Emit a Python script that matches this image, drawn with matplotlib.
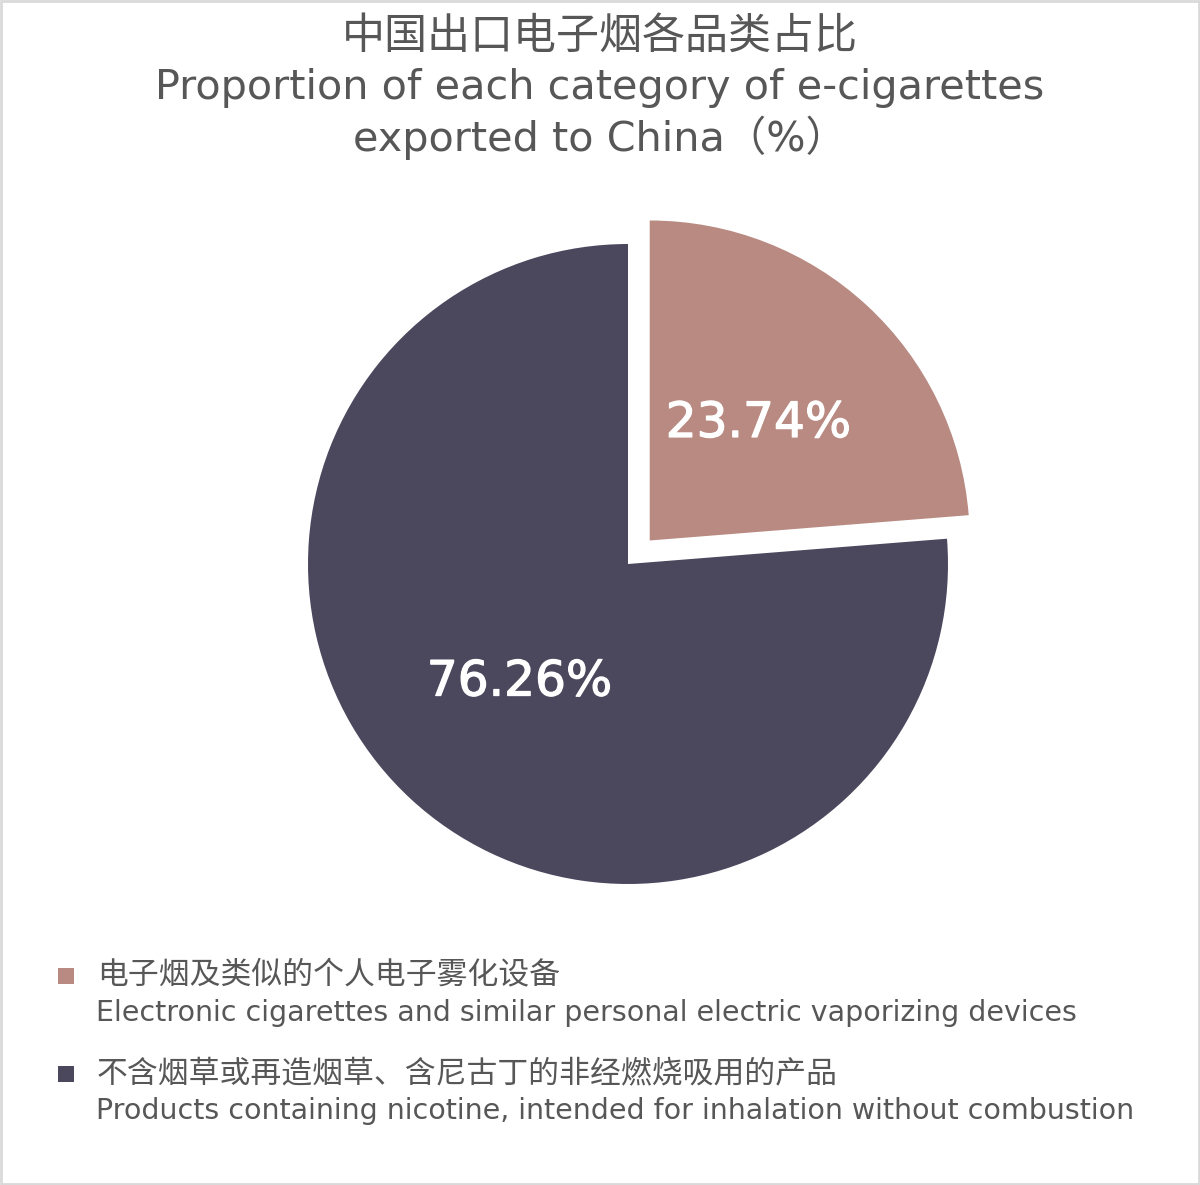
import matplotlib
matplotlib.use("Agg")
import matplotlib.pyplot as plt
import matplotlib.patheffects as pe
from matplotlib.patches import Rectangle

# data
labels_cn = ["电子烟及类似的个人电子雾化设备", "不含烟草或再造烟草、含尼古丁的非经燃烧吸用的产品"]
labels_en = ["Electronic cigarettes and similar personal electric vaporizing devices",
             "Products containing nicotine, intended for inhalation without combustion"]
shares = [23.74, 76.26]
colors = ["#B98A81", "#4B485D"]
explode = [0.1, 0]

title_cn = "中国出口电子烟各品类占比"
title_en = ["Proportion of each category of e-cigarettes", "exported to China（%）"]

fonts = ["DejaVu Sans", "Noto Sans CJK SC"]
text_color = "#575757"

fig = plt.figure(figsize=(12, 11.85), dpi=100)
fig.patch.set_facecolor("white")

# light border round the figure
fig.patches.append(Rectangle((0.001, 0.001), 0.998, 0.998, transform=fig.transFigure,
                             fill=False, edgecolor="#d9d9d9", linewidth=2))

# title
fig.text(0.5, 1 - 37 / 1185, title_cn, ha="center", va="center", fontsize=31,
         color=text_color, family=["Noto Sans CJK SC"])
fig.text(0.5, 1 - 88 / 1185, title_en[0], ha="center", va="center", fontsize=29.8,
         color=text_color, family=fonts)
fig.text(0.5, 1 - 138 / 1185, title_en[1], ha="center", va="center", fontsize=29.8,
         color=text_color, family=fonts)

# pie, radius 320 px, centre at (628, 564)
ax = fig.add_axes([(628 - 384) / 1200, (621 - 384) / 1185, 768 / 1200, 768 / 1185])
wedges, texts, autotexts = ax.pie(shares, explode=explode, colors=colors, startangle=90,
                                  counterclock=False, autopct="%.2f%%", pctdistance=0.5,
                                  wedgeprops=dict(linewidth=0))
for t in autotexts:
    t.set_color("white")
    t.set_fontsize(35)
    t.set_family(["DejaVu Sans"])
    # a thin white stroke to get the medium weight of the original
    t.set_path_effects([pe.withStroke(linewidth=0.9, foreground="white")])
ax.set_xlim(-1.2, 1.2)
ax.set_ylim(-1.2, 1.2)
ax.set_aspect("equal")
ax.axis("off")

# legend, drawn by hand so the square sits on the first line
leg_y = [976, 1074]
for i in range(len(shares)):
    y = leg_y[i]
    fig.patches.append(Rectangle((58 / 1200, 1 - (y + 8) / 1185), 16 / 1200, 16 / 1185,
                                 transform=fig.transFigure, facecolor=colors[i], edgecolor="none"))
    fig.text(97 / 1200, 1 - y / 1185, labels_cn[i], ha="left", va="center", fontsize=22.2,
             color=text_color, family=["Noto Sans CJK SC"])
    fig.text(96 / 1200, 1 - (y + 37) / 1185, labels_en[i], ha="left", va="center", fontsize=20.5,
             color=text_color, family=fonts)

fig.savefig("out.png", dpi=100, facecolor="white")
